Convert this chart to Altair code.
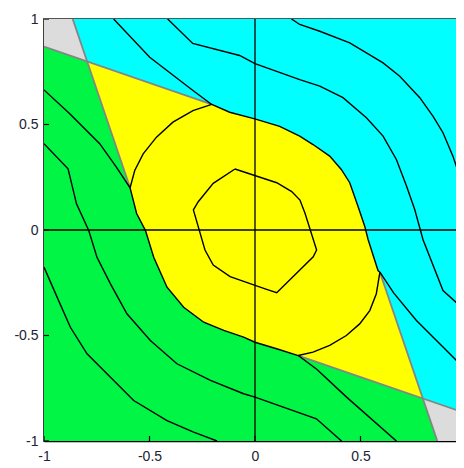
import altair as alt
import pandas as pd

# ---------------- data ----------------
# key corner points of the partition
P_tl = (-0.797, 0.800)
P_br = (0.797, -0.800)

# gray corner regions
gray_tl_x = [-1.0, -0.864, -0.797, -1.0]
gray_tl_y = [1.0, 1.0, 0.800, 0.869]
gray_br_x = [1.0, 0.864, 0.797, 1.0]
gray_br_y = [-1.0, -1.0, -0.800, -0.869]

# yellow / cyan boundary (A -> B)
ab_x = [-0.205, -0.120, -0.001, 0.117, 0.212, 0.275, 0.354, 0.409, 0.449, 0.488, 0.520, 0.536, 0.583, 0.592]
ab_y = [0.595, 0.558, 0.527, 0.491, 0.445, 0.405, 0.350, 0.287, 0.224, 0.113, 0.018, -0.045, -0.192, -0.200]

# yellow / green boundary (D -> C)
dc_x = [-0.592, -0.561, -0.519, -0.480, -0.417, -0.338, -0.243, -0.148, -0.054, 0.000, 0.110, 0.205]
dc_y = [0.200, 0.078, -0.002, -0.129, -0.271, -0.366, -0.437, -0.476, -0.508, -0.532, -0.565, -0.595]

# arcs inside the yellow region
arc_ad_x = [-0.205, -0.294, -0.389, -0.467, -0.530, -0.570, -0.592]
arc_ad_y = [0.595, 0.566, 0.511, 0.440, 0.361, 0.282, 0.200]
arc_bc_x = [0.592, 0.575, 0.544, 0.496, 0.433, 0.354, 0.275, 0.205]
arc_bc_y = [-0.200, -0.302, -0.382, -0.445, -0.500, -0.547, -0.579, -0.595]

# inner closed contour
hex_x = [-0.095, 0.103, 0.174, 0.213, 0.237, 0.292, 0.276, 0.103, 0.055, -0.118, -0.198, -0.237, -0.292, -0.269, -0.198, -0.095]
hex_y = [0.289, 0.224, 0.182, 0.142, 0.079, -0.095, -0.127, -0.297, -0.281, -0.221, -0.166, -0.095, 0.095, 0.134, 0.221, 0.289]

# contours leaving the corners
top_a_x = [-0.670, -0.499, -0.294, -0.205]
top_a_y = [1.0, 0.819, 0.661, 0.595]
left_d_x = [-1.0, -0.878, -0.736, -0.657, -0.592]
left_d_y = [0.664, 0.551, 0.409, 0.298, 0.200]
b_right_x = [0.592, 0.657, 0.765, 0.891, 1.0]
b_right_y = [-0.200, -0.298, -0.429, -0.555, -0.664]
c_bottom_x = [0.205, 0.294, 0.434, 0.670]
c_bottom_y = [-0.595, -0.661, -0.792, -1.0]

# outer contours
out_tr_x = [0.173, 0.212, 0.307, 0.449, 0.607, 0.686, 0.781, 0.844, 0.891, 0.938, 0.986, 1.0]
out_tr_y = [1.0, 0.974, 0.942, 0.887, 0.792, 0.729, 0.627, 0.539, 0.461, 0.350, 0.208, 0.170]
mid_tr_x = [-0.414, -0.295, -0.073, 0.0, 0.212, 0.307, 0.417, 0.528, 0.607, 0.670, 0.718, 0.757, 0.796, 0.891, 0.986, 1.0]
mid_tr_y = [1.0, 0.884, 0.827, 0.788, 0.713, 0.682, 0.627, 0.532, 0.445, 0.334, 0.208, 0.097, -0.045, -0.287, -0.372, -0.385]
mid_bl_x = [-1.0, -0.886, -0.846, -0.788, -0.749, -0.685, -0.607, -0.496, -0.370, -0.211, -0.054, 0.0, 0.291, 0.410]
mid_bl_y = [0.409, 0.290, 0.124, -0.002, -0.129, -0.255, -0.397, -0.524, -0.634, -0.713, -0.776, -0.792, -0.895, -1.0]
out_bl_x = [-1.0, -0.938, -0.875, -0.796, -0.685, -0.575, -0.417, -0.291, -0.180]
out_bl_y = [-0.176, -0.318, -0.461, -0.587, -0.698, -0.808, -0.903, -0.958, -1.0]

# gray partition lines
g1_x, g1_y = [-0.864, -0.592], [1.0, 0.200]
g2_x, g2_y = [-1.0, -0.205], [0.869, 0.595]
g3_x, g3_y = [0.864, 0.592], [-1.0, -0.200]
g4_x, g4_y = [1.0, 0.205], [-0.869, -0.595]

x_ticks = [-1, -0.5, 0, 0.5, 1]
y_ticks = [-1, -0.5, 0, 0.5, 1]
zero_lines = [0]

# ---------------- build tables ----------------
def frame(name, xs, ys):
    return pd.DataFrame({"id": name, "ord": list(range(len(xs))), "x": xs, "y": ys})

yellow_x = [P_tl[0]] + ab_x + [P_br[0]] + dc_x[::-1]
yellow_y = [P_tl[1]] + ab_y + [P_br[1]] + dc_y[::-1]
cyan_x = [-0.864, 1.0, 1.0, P_br[0]] + ab_x[::-1] + [P_tl[0]]
cyan_y = [1.0, 1.0, -0.869, P_br[1]] + ab_y[::-1] + [P_tl[1]]
green_x = [-1.0, P_tl[0]] + dc_x + [P_br[0], 0.864, -1.0]
green_y = [0.869, P_tl[1]] + dc_y + [P_br[1], -1.0, -1.0]

polys = [
    ("cyan", cyan_x, cyan_y, "#00ffff"),
    ("green", green_x, green_y, "#00f545"),
    ("yellow", yellow_x, yellow_y, "#ffff00"),
    ("gtl", gray_tl_x, gray_tl_y, "#dcdcdc"),
    ("gbr", gray_br_x, gray_br_y, "#dcdcdc"),
]

contours = pd.concat([
    frame("ab", ab_x, ab_y), frame("dc", dc_x, dc_y),
    frame("arc_ad", arc_ad_x, arc_ad_y), frame("arc_bc", arc_bc_x, arc_bc_y),
    frame("hex", hex_x, hex_y),
    frame("top_a", top_a_x, top_a_y), frame("left_d", left_d_x, left_d_y),
    frame("b_right", b_right_x, b_right_y), frame("c_bottom", c_bottom_x, c_bottom_y),
    frame("out_tr", out_tr_x, out_tr_y), frame("mid_tr", mid_tr_x, mid_tr_y),
    frame("mid_bl", mid_bl_x, mid_bl_y), frame("out_bl", out_bl_x, out_bl_y),
], ignore_index=True)

grays = pd.concat([
    frame("g1", g1_x, g1_y), frame("g2", g2_x, g2_y),
    frame("g3", g3_x, g3_y), frame("g4", g4_x, g4_y),
], ignore_index=True)

W, H = 412, 422
FONT = "Liberation Sans"

x_scale = alt.Scale(domain=[-1, 0.9526], nice=False, zero=False)
y_scale = alt.Scale(domain=[-1, 1], nice=False, zero=False)

x_axis = alt.Axis(values=x_ticks, labelExpr="datum.value + ''", ticks=False, grid=False,
                  domainColor="black", domainWidth=1.5, labelFont=FONT, labelFontSize=14,
                  labelColor="#222233", labelPadding=8, labelFlush=False, labelOverlap=False,
                  title=None)
y_axis = alt.Axis(values=y_ticks, labelExpr="datum.value + ''", ticks=False, grid=False,
                  domainColor="black", domainWidth=1.5, labelFont=FONT, labelFontSize=14,
                  labelColor="#222233", labelPadding=6, labelFlush=False, labelOverlap=False,
                  title=None)

X = alt.X("x:Q", scale=x_scale, axis=x_axis)
Y = alt.Y("y:Q", scale=y_scale, axis=y_axis)

layers = []
for name, xs, ys, col in polys:
    layers.append(
        alt.Chart(frame(name, xs, ys)).mark_line(fill=col, strokeWidth=0, clip=True)
        .encode(x=X, y=Y, order="ord:Q")
    )

layers.append(
    alt.Chart(grays).mark_line(color="#858585", strokeWidth=1.8, clip=True)
    .encode(x=X, y=Y, detail="id:N", order="ord:Q")
)
layers.append(
    alt.Chart(contours).mark_line(color="black", strokeWidth=1.4, clip=True)
    .encode(x=X, y=Y, detail="id:N", order="ord:Q")
)

zl = pd.DataFrame({"x": zero_lines, "y": zero_lines})
layers.append(alt.Chart(zl).mark_rule(color="black", strokeWidth=1.3).encode(x=alt.X("x:Q", scale=x_scale)))
layers.append(alt.Chart(zl).mark_rule(color="black", strokeWidth=1.3).encode(y=alt.Y("y:Q", scale=y_scale)))

xt = pd.DataFrame({"x": x_ticks})
yt = pd.DataFrame({"y": y_ticks})
layers.append(alt.Chart(xt).mark_rule(color="black", strokeWidth=1.2, clip=True).encode(
    x=alt.X("x:Q", scale=x_scale), y=alt.value(H - 5), y2=alt.value(H)))
layers.append(alt.Chart(yt).mark_rule(color="black", strokeWidth=1.2, clip=True).encode(
    y=alt.Y("y:Q", scale=y_scale), x=alt.value(0), x2=alt.value(5)))

chart = alt.layer(*layers).properties(
    width=W, height=H,
    autosize=alt.AutoSizeParams(type="none"),
    padding={"left": 36, "top": 11, "right": 0, "bottom": 26},
).configure_view(stroke="#555555", strokeWidth=2)

chart.save("out.html", embed_options={"renderer": "svg", "actions": False})
